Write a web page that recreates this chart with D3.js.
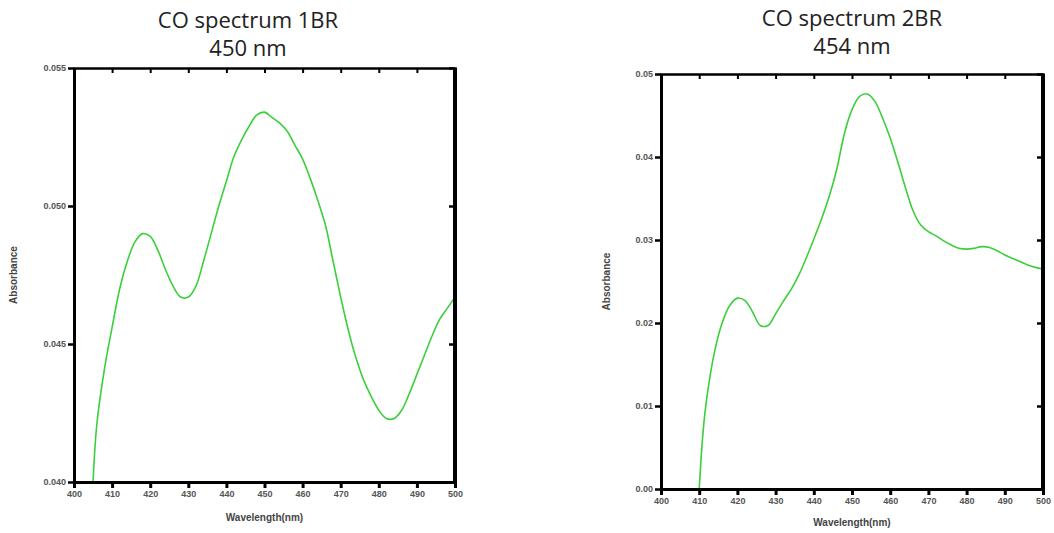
<!DOCTYPE html>
<html>
<head>
<meta charset="utf-8">
<script src="https://cdn.jsdelivr.net/npm/d3@7"></script>
<style>
  body { margin: 0; background: #fff; }
  svg { display: block; }
  .tick text { font-family: "Liberation Sans", Arial, sans-serif; font-size: 9px; font-weight: bold; fill: #555; }
  .title { font-family: "Open Sans", "Liberation Sans", sans-serif; font-size: 22px; fill: #222; }
  .axisTitle { font-family: "Liberation Sans", Arial, sans-serif; font-size: 10px; font-weight: bold; fill: #444; }
</style>
</head>
<body>
<script>
// spectrum 1BR
var wl1 = [405, 406, 408, 410, 412, 414, 416, 418, 420, 422, 424, 426, 428, 430, 432, 434, 436, 438, 440,
           442, 444, 446, 448, 450, 452, 454, 456, 458, 460, 462, 464, 466, 468, 470, 472, 474, 476, 478,
           480, 482, 484, 486, 488, 490, 492, 494, 496, 498, 500];
var abs1 = [0.0400, 0.0421, 0.0441, 0.0456, 0.0470, 0.0480, 0.0487, 0.0490, 0.0489, 0.0484, 0.0477, 0.0471,
            0.0467, 0.0467, 0.0471, 0.0480, 0.0490, 0.0500, 0.0509, 0.0518, 0.0524, 0.0529, 0.0533, 0.0534,
            0.0532, 0.0530, 0.0527, 0.0522, 0.0517, 0.0510, 0.0502, 0.0493, 0.0480, 0.0467, 0.0455, 0.0445,
            0.0437, 0.0431, 0.0426, 0.0423, 0.0423, 0.0426, 0.0432, 0.0439, 0.0446, 0.0453, 0.0459, 0.0463, 0.0467];

// spectrum 2BR
var wl2 = [410, 411, 412, 414, 416, 418, 420, 422, 424, 426, 428, 430, 432, 434, 436, 438, 440, 442, 444,
           446, 448, 450, 452, 454, 456, 458, 460, 462, 464, 466, 468, 470, 472, 474, 476, 478, 480, 482,
           484, 486, 488, 490, 492, 494, 496, 498, 500];
var abs2 = [0.0000, 0.0068, 0.0110, 0.0165, 0.0200, 0.0221, 0.0230, 0.0227, 0.0213, 0.0197, 0.0197, 0.0211,
            0.0226, 0.0240, 0.0257, 0.0278, 0.0301, 0.0325, 0.0352, 0.0385, 0.0428, 0.0457, 0.0473, 0.0476,
            0.0467, 0.0447, 0.0423, 0.0394, 0.0363, 0.0335, 0.0318, 0.0310, 0.0305, 0.0299, 0.0294, 0.0290,
            0.0289, 0.0290, 0.0292, 0.0291, 0.0287, 0.0282, 0.0278, 0.0274, 0.0270, 0.0267, 0.0265];

var xTicks = [400, 410, 420, 430, 440, 450, 460, 470, 480, 490, 500];
var yTicks1 = [0.040, 0.045, 0.050, 0.055];
var yTicks2 = [0.00, 0.01, 0.02, 0.03, 0.04, 0.05];

var svg = d3.select("body").append("svg")
    .attr("width", 1054)
    .attr("height", 533);

drawChart({
  x: wl1, y: abs1, yDomain: [0.040, 0.055], yTicks: yTicks1, yFmt: d3.format(".3f"),
  left: 74, right: 455, top: 68, bottom: 482,
  title: ["CO spectrum 1BR", "450 nm"], titleX: 248, titleY: [28, 56],
  yTitleX: 17, xTitleY: 521
});
drawChart({
  x: wl2, y: abs2, yDomain: [0, 0.05], yTicks: yTicks2, yFmt: d3.format(".2f"),
  left: 661, right: 1043, top: 74, bottom: 489,
  title: ["CO spectrum 2BR", "454 nm"], titleX: 852, titleY: [26, 54],
  yTitleX: 610, xTitleY: 526
});

function drawChart(c) {
  var g = svg.append("g");

  var x = d3.scaleLinear().domain([400, 500]).range([c.left, c.right]);
  var y = d3.scaleLinear().domain(c.yDomain).range([c.bottom, c.top]);

  // spectrum line
  var line = d3.line()
      .x(function(d){ return x(d[0]); })
      .y(function(d){ return y(d[1]); })
      .curve(d3.curveCatmullRom);

  g.append("path")
      .datum(d3.zip(c.x, c.y))
      .attr("fill", "none")
      .attr("stroke", "#3ccf3c")
      .attr("stroke-width", 1.6)
      .attr("d", line);

  // top & right mirror axes, ticks pointing in
  var top = g.append("g")
      .attr("transform", "translate(0," + c.top + ")")
      .call(d3.axisBottom(x).tickValues(xTicks).tickSize(5).tickFormat(""));
  top.select(".domain").attr("stroke-width", 2.5);
  top.selectAll(".tick line").attr("stroke-width", 2);

  var right = g.append("g")
      .attr("transform", "translate(" + c.right + ",0)")
      .call(d3.axisLeft(y).tickValues(c.yTicks).tickSize(6).tickFormat(""));
  right.select(".domain").attr("stroke-width", 4).attr("d", "M0," + c.top + "V" + c.bottom);
  right.selectAll(".tick line").attr("stroke-width", 2.5);

  // bottom axis
  var bottom = g.append("g")
      .attr("transform", "translate(0," + c.bottom + ")")
      .call(d3.axisBottom(x).tickValues(xTicks).tickSizeInner(6).tickSizeOuter(0).tickPadding(3));
  bottom.select(".domain").attr("stroke-width", 3);
  bottom.selectAll(".tick line").attr("stroke-width", 3);

  // left axis
  var leftAx = g.append("g")
      .attr("transform", "translate(" + c.left + ",0)")
      .call(d3.axisLeft(y).tickValues(c.yTicks).tickFormat(c.yFmt).tickSizeInner(6).tickSizeOuter(0).tickPadding(2));
  leftAx.select(".domain").attr("stroke-width", 3);
  leftAx.selectAll(".tick line").attr("stroke-width", 2.5);

  // titles
  g.selectAll(".title")
      .data(c.title)
      .enter()
      .append("text")
      .attr("class", "title")
      .attr("text-anchor", "middle")
      .attr("x", c.titleX)
      .attr("y", function(d, i){ return c.titleY[i]; })
      .text(function(d){ return d; });

  g.append("text")
      .attr("class", "axisTitle")
      .attr("text-anchor", "middle")
      .attr("x", (c.left + c.right) / 2)
      .attr("y", c.xTitleY)
      .text("Wavelength(nm)");

  g.append("text")
      .attr("class", "axisTitle")
      .attr("text-anchor", "middle")
      .attr("transform", "translate(" + c.yTitleX + "," + ((c.top + c.bottom) / 2) + ") rotate(-90)")
      .text("Absorbance");
}
</script>
</body>
</html>
